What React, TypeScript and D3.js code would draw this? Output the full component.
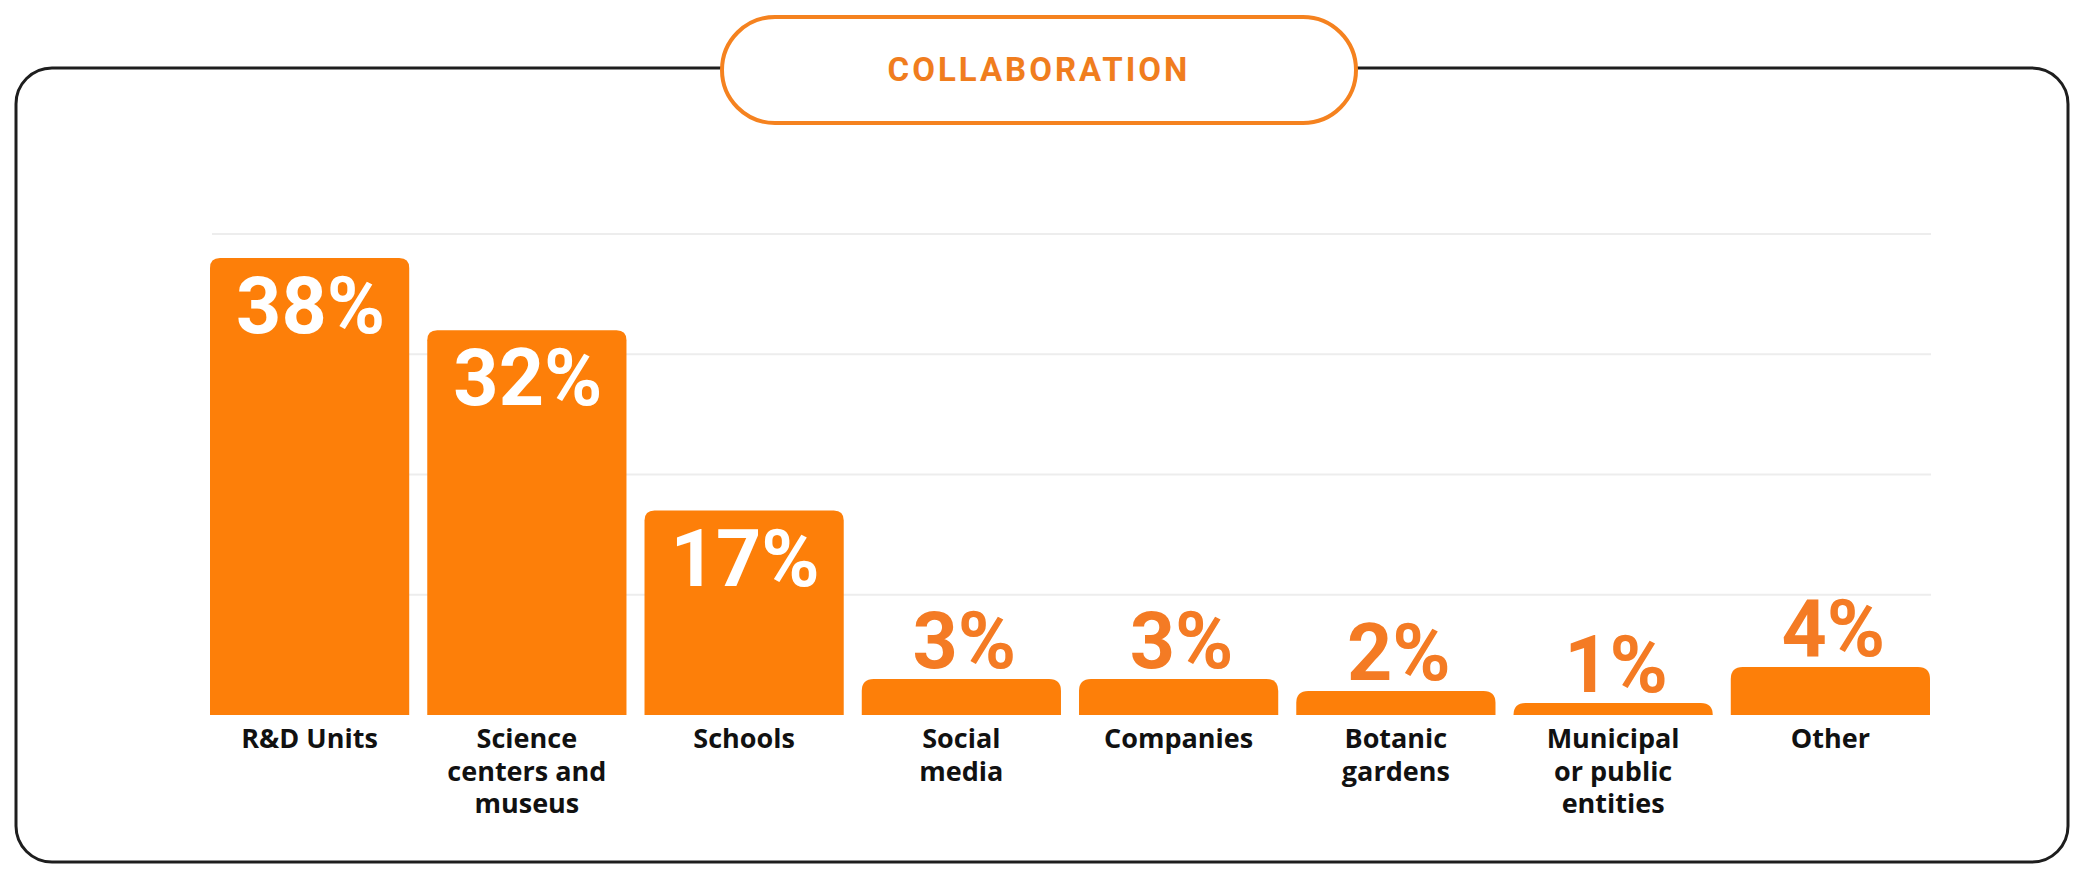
import React, { useEffect } from "react";
import * as d3 from "d3";

const categories: string[][] = [
  ["R&D Units"],
  ["Science", "centers and", "museus"],
  ["Schools"],
  ["Social", "media"],
  ["Companies"],
  ["Botanic", "gardens"],
  ["Municipal", "or public", "entities"],
  ["Other"],
];
const values: number[] = [38, 32, 17, 3, 3, 2, 1, 4];
const gridTicks: number[] = [10, 20, 30, 40];
const title = "COLLABORATION";

const W = 2084;
const H = 879;
const ORANGE = "#FD7F09";
const LABEL_ORANGE = "#F47B24";

function topRoundedBar(x: number, y: number, w: number, h: number, r: number) {
  const rr = Math.min(r, h, w / 2);
  return `M${x},${y + h}V${y + rr}Q${x},${y} ${x + rr},${y}H${x + w - rr}Q${x + w},${y} ${x + w},${y + rr}V${y + h}Z`;
}

export default function App() {
  useEffect(() => {
    document.body.style.margin = "0";
  }, []);

  const x = d3
    .scaleBand<number>()
    .domain(d3.range(values.length))
    .range([210, 1930])
    .paddingInner(0.083)
    .paddingOuter(0);
  const y = d3.scaleLinear().domain([0, 40]).range([715, 234]);

  const frame = { x: 16, y: 68, w: 2052, h: 794, r: 36 };
  const pill = { x: 722, y: 17, w: 634, h: 106 };

  return (
    <svg width={W} height={H} style={{ position: "absolute", left: 0, top: 0, background: "#fff" }}>
      <rect x={frame.x} y={frame.y} width={frame.w} height={frame.h} rx={frame.r} ry={frame.r}
        fill="#fff" stroke="#1e1e1e" strokeWidth={3} />
      <rect x={pill.x} y={pill.y} width={pill.w} height={pill.h} rx={pill.h / 2} ry={pill.h / 2}
        fill="#fff" stroke="#F5821F" strokeWidth={4} />
      <text x={pill.x + pill.w / 2} y={pill.y + pill.h / 2 + 11} textAnchor="middle"
        fontFamily="Roboto, sans-serif" fontWeight={700} fontSize={33} letterSpacing={3}
        fill="#F07D1E">{title}</text>

      {gridTicks.map((t) => (
        <line key={t} x1={212} x2={1931} y1={y(t)} y2={y(t)} stroke="#EDEDED" strokeWidth={2} />
      ))}

      {values.map((v, i) => {
        const bx = x(i)!;
        const bw = x.bandwidth();
        const top = y(v);
        const inside = v >= 10;
        return (
          <g key={i}>
            <path d={topRoundedBar(bx, top, bw, y(0) - top, inside ? 10 : 12)} fill={ORANGE} />
            <text x={bx + bw / 2 + (inside ? 1 : 3)} y={inside ? top + 75 : top - 11} textAnchor="middle"
              fontFamily="Roboto, sans-serif" fontWeight={700} fontSize={79}
              fill={inside ? "#fff" : LABEL_ORANGE}>{v}%</text>
            {categories[i].map((line, j) => (
              <text key={j} x={bx + bw / 2} y={748 + j * 32.5} textAnchor="middle"
                fontFamily="'Open Sans', sans-serif" fontWeight={700} fontSize={27}
                fill="#111">{line}</text>
            ))}
          </g>
        );
      })}
    </svg>
  );
}
